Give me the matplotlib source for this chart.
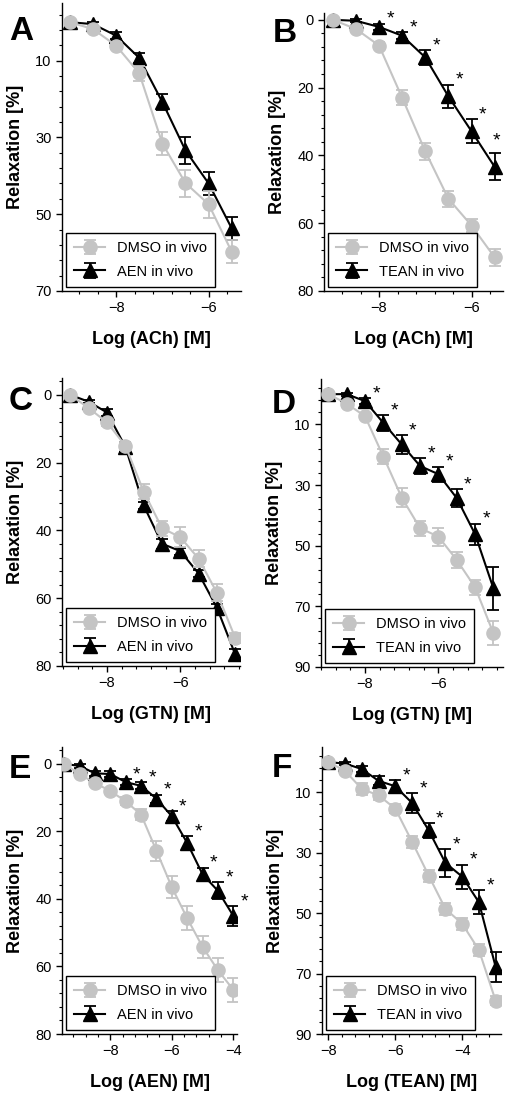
import numpy as np
import matplotlib.pyplot as plt
from matplotlib.ticker import AutoMinorLocator

plt.rcParams['font.family'] = ['Liberation Sans', 'DejaVu Sans']

W, H = 505, 1094
GRAY = '#c4c4c4'

# ---- data (log molar concentration vs relaxation %) ----
ach_x = [-9, -8.5, -8, -7.5, -7, -6.5, -6, -5.5]

a_dmso = [0, 1.8, 6.1, 13.3, 31.6, 41.9, 47.4, 59.8]
a_dmso_err = [0.5, 0.8, 1.0, 2.0, 3.0, 3.5, 3.5, 3.0]
a_aen = [0, 0.5, 3.5, 9.3, 20.8, 33.4, 42.0, 53.7]
a_aen_err = [0.5, 0.5, 1.0, 1.2, 2.0, 3.5, 3.0, 3.0]

b_dmso = [0, 2.7, 7.6, 23.0, 38.8, 52.8, 60.7, 70.1]
b_dmso_err = [0.5, 0.8, 1.0, 2.2, 2.5, 2.3, 2.0, 2.5]
b_tean = [0, 0.3, 2.1, 4.7, 11.1, 22.6, 32.9, 43.4]
b_tean_err = [0.5, 0.5, 1.0, 1.0, 2.2, 3.5, 3.5, 4.0]
b_stars = [2, 3, 4, 5, 6, 7]

gtn_x = [-9, -8.5, -8, -7.5, -7, -6.5, -6, -5.5, -5, -4.5]

c_dmso = [0, 3.9, 8.1, 15.0, 28.5, 39.3, 42.0, 48.3, 58.4, 71.7]
c_dmso_err = [0.5, 0.8, 1.0, 1.2, 2.2, 2.2, 3.0, 2.5, 2.5, 1.5]
c_aen = [0, 2.0, 5.2, 15.3, 32.6, 43.9, 46.1, 52.7, 62.8, 76.6]
c_aen_err = [0.5, 0.5, 1.0, 1.5, 1.0, 1.5, 1.0, 1.0, 1.2, 1.5]

d_dmso = [0, 3.1, 7.3, 20.6, 34.1, 44.2, 47.0, 54.7, 63.7, 78.9]
d_dmso_err = [0.5, 0.8, 1.0, 2.5, 3.0, 2.5, 3.0, 2.5, 2.5, 4.0]
d_tean = [0, 0, 2.3, 9.5, 16.6, 23.7, 26.4, 34.3, 46.2, 64.1]
d_tean_err = [0.5, 0.5, 1.0, 2.5, 3.0, 2.5, 2.5, 3.0, 3.5, 7.0]
d_stars = [2, 3, 4, 5, 6, 7, 8]

aen_x = [-9.5, -9, -8.5, -8, -7.5, -7, -6.5, -6, -5.5, -5, -4.5, -4]
e_dmso = [0, 3.0, 5.7, 8.0, 11.1, 15.0, 25.7, 36.5, 45.7, 54.2, 61.1, 66.9]
e_dmso_err = [0.5, 0.5, 0.8, 1.0, 1.2, 1.5, 3.0, 3.2, 3.5, 3.3, 3.5, 3.5]
e_aen = [0, 0.6, 2.8, 3.0, 5.4, 6.5, 10.3, 15.5, 23.4, 32.7, 37.6, 45.0]
e_aen_err = [0.5, 0.5, 0.8, 1.0, 1.0, 1.0, 1.2, 1.5, 2.0, 2.0, 2.5, 3.0]
e_stars = [4, 5, 6, 7, 8, 9, 10, 11]

tean_x = [-8, -7.5, -7, -6.5, -6, -5.5, -5, -4.5, -4, -3.5, -3]
f_dmso = [0, 2.9, 8.9, 11.0, 15.4, 26.3, 37.6, 48.6, 53.5, 62.2, 79.0]
f_dmso_err = [0.5, 0.8, 2.0, 1.5, 1.5, 2.0, 2.0, 2.0, 2.0, 2.0, 1.5]
f_tean = [0, 0.5, 2.3, 6.2, 8.0, 13.5, 22.6, 33.4, 37.9, 46.4, 67.8]
f_tean_err = [0.5, 0.5, 1.0, 1.5, 2.0, 3.3, 2.5, 4.5, 4.0, 4.0, 5.0]
f_stars = [4, 5, 6, 7, 8, 9]

panels = [
    dict(letter='A', box=(62, 3, 241, 291), lpos=(9, 40), xlim=(-9.17, -5.3), ylim=(70, -5),
         yticks=[10, 30, 50, 70], xticks=[-8, -6], xlabel='Log (ACh) [M]',
         x=ach_x, dmso=a_dmso, dmso_err=a_dmso_err, trt=a_aen, trt_err=a_aen_err,
         label='AEN in vivo', stars=[]),
    dict(letter='B', box=(324, 13, 503, 291), lpos=(273, 42), xlim=(-9.19, -5.32), ylim=(80, -2),
         yticks=[0, 20, 40, 60, 80], xticks=[-8, -6], xlabel='Log (ACh) [M]',
         x=ach_x, dmso=b_dmso, dmso_err=b_dmso_err, trt=b_tean, trt_err=b_tean_err,
         label='TEAN in vivo', stars=b_stars),
    dict(letter='C', box=(62, 378, 240, 666), lpos=(9, 410), xlim=(-9.23, -4.37), ylim=(80, -5),
         yticks=[0, 20, 40, 60, 80], xticks=[-8, -6], xlabel='Log (GTN) [M]',
         x=gtn_x, dmso=c_dmso, dmso_err=c_dmso_err, trt=c_aen, trt_err=c_aen_err,
         label='AEN in vivo', stars=[]),
    dict(letter='D', box=(321, 379, 503, 667), lpos=(272, 413), xlim=(-9.2, -4.24), ylim=(90, -5),
         yticks=[10, 30, 50, 70, 90], xticks=[-8, -6], xlabel='Log (GTN) [M]',
         x=gtn_x, dmso=d_dmso, dmso_err=d_dmso_err, trt=d_tean, trt_err=d_tean_err,
         label='TEAN in vivo', stars=d_stars),
    dict(letter='E', box=(62, 747, 237, 1034), lpos=(9, 778), xlim=(-9.57, -3.88), ylim=(80, -5),
         yticks=[0, 20, 40, 60, 80], xticks=[-8, -6, -4], xlabel='Log (AEN) [M]',
         x=aen_x, dmso=e_dmso, dmso_err=e_dmso_err, trt=e_aen, trt_err=e_aen_err,
         label='AEN in vivo', stars=e_stars),
    dict(letter='F', box=(322, 747, 501, 1034), lpos=(272, 777), xlim=(-8.19, -2.84), ylim=(90, -5),
         yticks=[10, 30, 50, 70, 90], xticks=[-8, -6, -4], xlabel='Log (TEAN) [M]',
         x=tean_x, dmso=f_dmso, dmso_err=f_dmso_err, trt=f_tean, trt_err=f_tean_err,
         label='TEAN in vivo', stars=f_stars),
]

fig = plt.figure(figsize=(W / 100, H / 100), dpi=100)

for p in panels:
    l, t, r, b = p['box']
    ax = fig.add_axes([l / W, 1 - b / H, (r - l) / W, (b - t) / H])
    x = np.array(p['x'])
    trt = np.array(p['trt'])
    trt_err = np.array(p['trt_err'])
    x0, x1 = p['xlim']

    h_trt = ax.errorbar(x, trt, yerr=trt_err, color='black', marker='^', ms=9.5,
                        lw=1.5, elinewidth=1.3, capsize=4, capthick=1.3, zorder=2)
    h_dmso = ax.errorbar(x, p['dmso'], yerr=p['dmso_err'], color=GRAY, marker='o', ms=9.5,
                         lw=1.5, elinewidth=1.3, capsize=4, capthick=1.3, zorder=3)

    for i in p['stars']:
        # star sits right of the upper error cap; at the figure edge it goes on top
        px = l + (x[i] - x0) / (x1 - x0) * (r - l)
        off = (1, 9) if px + 14 > W else (8, 3)
        ax.annotate('*', xy=(x[i], trt[i] - trt_err[i]), xytext=off,
                    textcoords='offset points', ha='center', va='center', fontsize=14,
                    annotation_clip=False)

    ax.set_xlim(x0, x1)
    ax.set_ylim(*p['ylim'])
    ax.set_xticks(p['xticks'])
    ax.set_yticks(p['yticks'])
    ax.xaxis.set_minor_locator(AutoMinorLocator(5))
    ax.yaxis.set_minor_locator(AutoMinorLocator(5))
    for s in ['top', 'right']:
        ax.spines[s].set_visible(False)
    for s in ['left', 'bottom']:
        ax.spines[s].set_linewidth(1.0)
    ax.tick_params(which='major', direction='out', length=4, width=1, labelsize=10.5)
    ax.tick_params(which='minor', direction='out', length=2, width=0.8)

    ax.set_xlabel(p['xlabel'], fontsize=13, fontweight='bold', labelpad=11)
    ax.set_ylabel('Relaxation [%]', fontsize=13, fontweight='bold', labelpad=8)

    leg = ax.legend([h_dmso, h_trt], ['DMSO in vivo', p['label']], loc='lower left',
                    fontsize=10.5, frameon=True, fancybox=False, framealpha=1,
                    edgecolor='black', borderaxespad=0.3, handlelength=2.1,
                    labelspacing=0.65, borderpad=0.55)
    leg.get_frame().set_linewidth(1.0)

    fig.text(p['lpos'][0] / W, 1 - p['lpos'][1] / H, p['letter'], fontsize=24,
             fontweight='bold', ha='left', va='baseline')

fig.savefig('out.png', dpi=100)
